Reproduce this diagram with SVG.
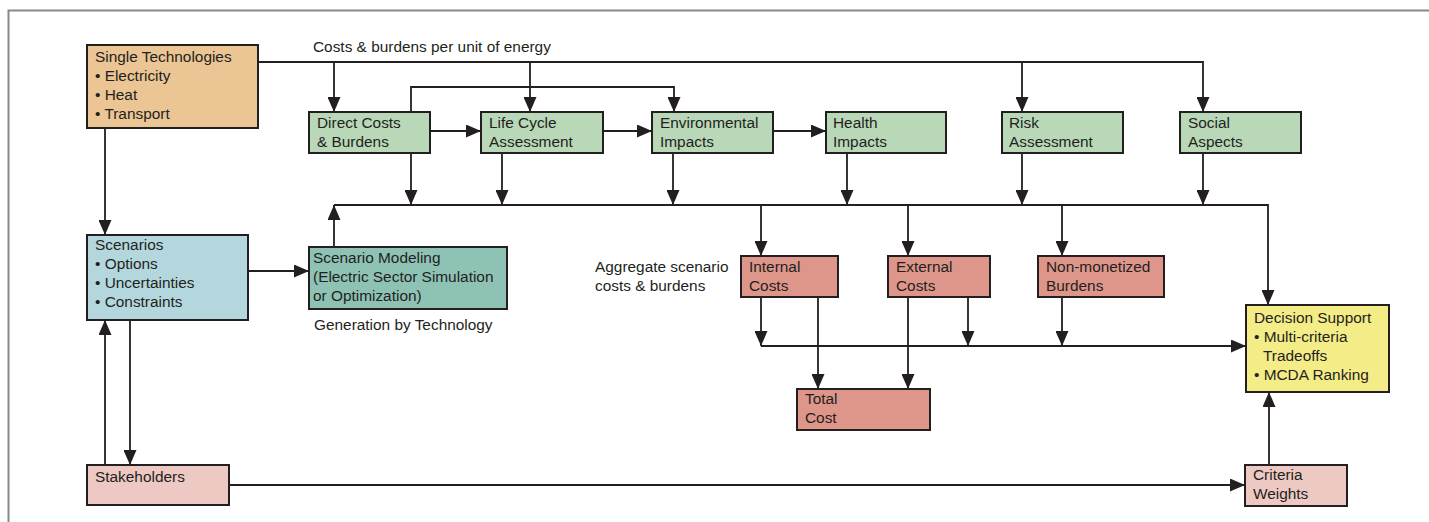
<svg xmlns="http://www.w3.org/2000/svg" width="1429" height="522" viewBox="0 0 1429 522">
<defs>
<style>
text{font-family:"Liberation Sans",Arial,sans-serif;font-size:15.4px;fill:#231F20}
.b{stroke:#231F20;stroke-width:2}
.l{fill:none;stroke:#231F20;stroke-width:1.8}
.peach{fill:#EBC593}.green{fill:#B8D8B8}.blue{fill:#B3D7DD}.teal{fill:#8EC2B5}
.salmon{fill:#DE968A}.pink{fill:#EEC9C3}.yellow{fill:#F4EC86}
</style>
<marker id="ah" markerUnits="userSpaceOnUse" markerWidth="16" markerHeight="13" refX="15" refY="6.5" orient="auto">
<path d="M0,0 L15,6.5 L0,13 z" fill="#231F20"/>
</marker>
</defs>
<rect width="1429" height="522" fill="#fff"/>
<path d="M8.5,522 V10.5 H1429" fill="none" stroke="#888" stroke-width="2"/>

<g id="connectors">
<path class="l" d="M258,62 H1203 V112" marker-end="url(#ah)"/>
<path class="l" d="M334,62 V112" marker-end="url(#ah)"/>
<path class="l" d="M530,62 V112" marker-end="url(#ah)"/>
<path class="l" d="M1022,62 V112" marker-end="url(#ah)"/>
<path class="l" d="M411,112 V87 H674 V112" marker-end="url(#ah)"/>
<path class="l" d="M430,131 H481" marker-end="url(#ah)"/>
<path class="l" d="M603,131 H652" marker-end="url(#ah)"/>
<path class="l" d="M773,131 H826" marker-end="url(#ah)"/>
<path class="l" d="M411,153 V205" marker-end="url(#ah)"/>
<path class="l" d="M502,153 V205" marker-end="url(#ah)"/>
<path class="l" d="M673,153 V205" marker-end="url(#ah)"/>
<path class="l" d="M847,153 V205" marker-end="url(#ah)"/>
<path class="l" d="M1022,153 V205" marker-end="url(#ah)"/>
<path class="l" d="M1203,153 V205" marker-end="url(#ah)"/>
<path class="l" d="M334,205 H1268 V305" marker-end="url(#ah)"/>
<path class="l" d="M334,247 V205" marker-end="url(#ah)"/>
<path class="l" d="M761,205 V256" marker-end="url(#ah)"/>
<path class="l" d="M908,205 V256" marker-end="url(#ah)"/>
<path class="l" d="M1062,205 V256" marker-end="url(#ah)"/>
<path class="l" d="M105,128 V235" marker-end="url(#ah)"/>
<path class="l" d="M248,271 H309" marker-end="url(#ah)"/>
<path class="l" d="M130,320 V465" marker-end="url(#ah)"/>
<path class="l" d="M105,465 V320" marker-end="url(#ah)"/>
<path class="l" d="M229,485 H1245" marker-end="url(#ah)"/>
<path class="l" d="M1269,465 V392" marker-end="url(#ah)"/>
<path class="l" d="M761,297 V346" marker-end="url(#ah)"/>
<path class="l" d="M761,346 H1246" marker-end="url(#ah)"/>
<path class="l" d="M968,297 V346" marker-end="url(#ah)"/>
<path class="l" d="M1062,297 V346" marker-end="url(#ah)"/>
<path class="l" d="M818,297 V389" marker-end="url(#ah)"/>
<path class="l" d="M908,297 V389" marker-end="url(#ah)"/>
</g>

<text x="313" y="52">Costs &amp; burdens per unit of energy</text>
<text x="595" y="272">Aggregate scenario</text>
<text x="595" y="291">costs &amp; burdens</text>
<text x="314" y="330">Generation by Technology</text>

<g id="single-tech">
<rect class="b peach" x="87" y="45" width="171" height="83"/>
<text x="95" y="62">Single Technologies</text>
<text x="95" y="81">• Electricity</text>
<text x="95" y="100">• Heat</text>
<text x="95" y="119">• Transport</text>
</g>
<g id="direct-costs">
<rect class="b green" x="309" y="112" width="121" height="41"/>
<text x="317" y="128">Direct Costs</text>
<text x="317" y="147">&amp; Burdens</text>
</g>
<g id="lca">
<rect class="b green" x="481" y="112" width="122" height="41"/>
<text x="489" y="128">Life Cycle</text>
<text x="489" y="147">Assessment</text>
</g>
<g id="env">
<rect class="b green" x="652" y="112" width="121" height="41"/>
<text x="660" y="128">Environmental</text>
<text x="660" y="147">Impacts</text>
</g>
<g id="health">
<rect class="b green" x="826" y="112" width="120" height="41"/>
<text x="833" y="128">Health</text>
<text x="833" y="147">Impacts</text>
</g>
<g id="risk">
<rect class="b green" x="1002" y="112" width="121" height="41"/>
<text x="1009" y="128">Risk</text>
<text x="1009" y="147">Assessment</text>
</g>
<g id="social">
<rect class="b green" x="1180" y="112" width="121" height="41"/>
<text x="1188" y="128">Social</text>
<text x="1188" y="147">Aspects</text>
</g>
<g id="scenarios">
<rect class="b blue" x="87" y="235" width="161" height="85"/>
<text x="95" y="250">Scenarios</text>
<text x="95" y="269">• Options</text>
<text x="95" y="288">• Uncertainties</text>
<text x="95" y="307">• Constraints</text>
</g>
<g id="scenario-modeling">
<rect class="b teal" x="309" y="247" width="198" height="62"/>
<text x="313" y="263">Scenario Modeling</text>
<text x="313" y="282">(Electric Sector Simulation</text>
<text x="313" y="301">or Optimization)</text>
</g>
<g id="internal-costs">
<rect class="b salmon" x="741" y="256" width="97" height="41"/>
<text x="749" y="272">Internal</text>
<text x="749" y="291">Costs</text>
</g>
<g id="external-costs">
<rect class="b salmon" x="888" y="256" width="102" height="41"/>
<text x="896" y="272">External</text>
<text x="896" y="291">Costs</text>
</g>
<g id="non-monetized">
<rect class="b salmon" x="1038" y="256" width="126" height="41"/>
<text x="1046" y="272">Non-monetized</text>
<text x="1046" y="291">Burdens</text>
</g>
<g id="total-cost">
<rect class="b salmon" x="797" y="389" width="133" height="41"/>
<text x="805" y="404">Total</text>
<text x="805" y="423">Cost</text>
</g>
<g id="decision-support">
<rect class="b yellow" x="1246" y="305" width="143" height="87"/>
<text x="1254" y="323">Decision Support</text>
<text x="1254" y="342">• Multi-criteria</text>
<text x="1263" y="361">Tradeoffs</text>
<text x="1254" y="380">• MCDA Ranking</text>
</g>
<g id="stakeholders">
<rect class="b pink" x="87" y="465" width="142" height="40"/>
<text x="95" y="482">Stakeholders</text>
</g>
<g id="criteria-weights">
<rect class="b pink" x="1245" y="465" width="102" height="41"/>
<text x="1253" y="480">Criteria</text>
<text x="1253" y="499">Weights</text>
</g>
</svg>
